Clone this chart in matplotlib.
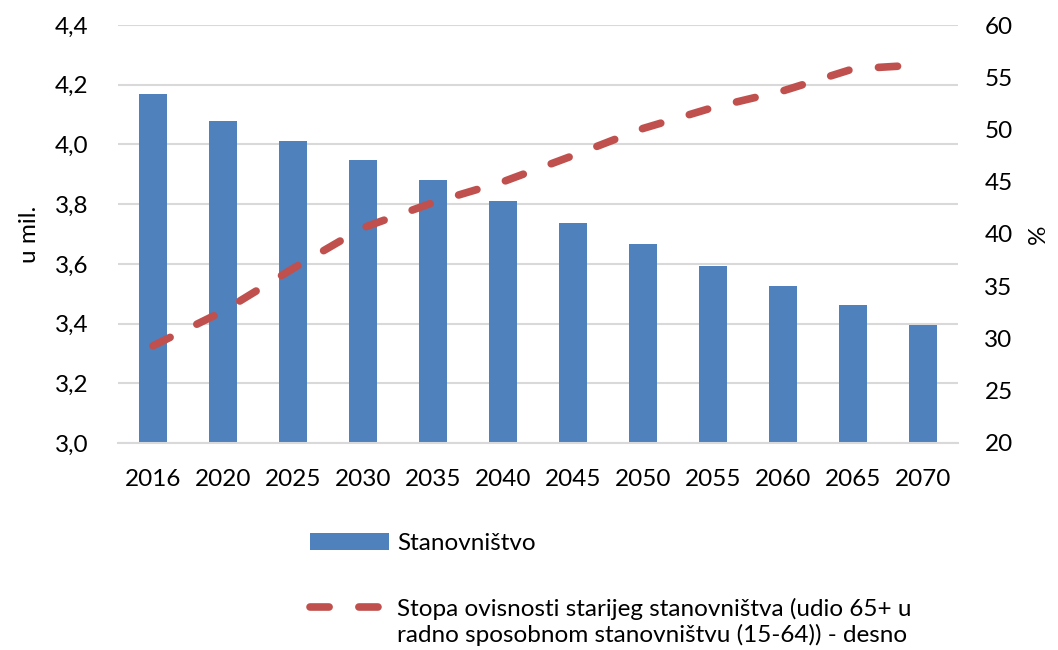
import matplotlib.pyplot as plt
import numpy as np
from matplotlib.legend_handler import HandlerLine2D

# data
godine = ['2016', '2020', '2025', '2030', '2035', '2040', '2045', '2050', '2055', '2060', '2065', '2070']
stanovnistvo = [4.17, 4.08, 4.01, 3.948, 3.881, 3.811, 3.738, 3.665, 3.593, 3.526, 3.462, 3.395]
stopa_ovisnosti = [29.3, 32.6, 36.7, 40.6, 43.0, 45.0, 47.5, 50.1, 52.1, 53.7, 55.8, 56.2]

plt.rcParams['font.family'] = ['Lato', 'DejaVu Sans']
plt.rcParams['font.size'] = 17.5


# legend handle poravnat s prvim redom teksta
class PomaknutaLinija(HandlerLine2D):
    def create_artists(self, legend, orig_handle, xdescent, ydescent, width, height, fontsize, trans):
        arts = super().create_artists(legend, orig_handle, xdescent, ydescent, width, height, fontsize, trans)
        for a in arts:
            a.set_ydata(np.asarray(a.get_ydata()) + 10.8)
        return arts


fig = plt.figure(figsize=(10.58, 6.5), dpi=100)
ax = fig.add_axes([0.1115, 0.3185, 0.794, 0.643])
x = np.arange(len(godine))

bars = ax.bar(x, stanovnistvo, width=0.41, color='#4F81BD', zorder=2,
              label='Stanovništvo')
ax.set_ylim(3.0, 4.4)
ax.set_yticks(np.arange(3.0, 4.41, 0.2))
ax.set_yticklabels(['{:.1f}'.format(v).replace('.', ',') for v in np.arange(3.0, 4.41, 0.2)])
ax.set_xlim(-0.5, len(godine) - 0.5)
ax.set_xticks(x)
ax.set_xticklabels(godine)
ax.grid(axis='y', color='#D9D9D9', linewidth=1.5, zorder=0)
ax.set_axisbelow(True)
for s in ['top', 'right', 'left']:
    ax.spines[s].set_visible(False)
ax.spines['bottom'].set_color('#D9D9D9')
ax.spines['bottom'].set_linewidth(1.5)
ax.tick_params(axis='both', length=0, colors='#000000')
ax.tick_params(axis='y', pad=21)
ax.tick_params(axis='x', pad=19)
ax.set_ylabel('u mil.', labelpad=11)

# desna os - stopa ovisnosti
ax2 = ax.twinx()
line, = ax2.plot(x, stopa_ovisnosti, color='#C0504D', linewidth=5.5,
                 dashes=(2.5, 3.9), dash_capstyle='round', zorder=3,
                 label='Stopa ovisnosti starijeg stanovništva (udio 65+ u\nradno sposobnom stanovništvu (15-64)) - desno')
ax2.set_ylim(20, 60)
ax2.set_yticks(range(20, 61, 5))
for s in ax2.spines.values():
    s.set_visible(False)
ax2.tick_params(axis='y', length=0, pad=19)
ax2.set_ylabel('%', labelpad=11)

# legenda ispod grafa
fig.legend(handles=[bars, line], loc='upper left', bbox_to_anchor=(0.284, 0.195),
           frameon=False, handlelength=3.25, handletextpad=0.33, labelspacing=1.8,
           borderaxespad=0, handler_map={line: PomaknutaLinija()})

fig.savefig('out.png', dpi=100)
